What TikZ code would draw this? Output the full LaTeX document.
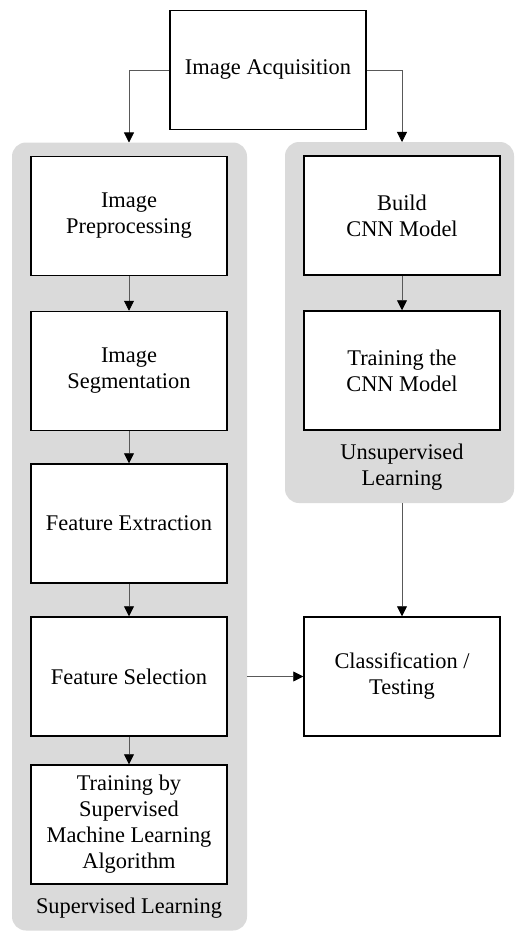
\documentclass[tikz,border=0pt]{standalone}
\usepackage{fontspec}
\setmainfont{LiberationSerif}[Extension=.ttf, UprightFont=*-Regular, BoldFont=*-Bold]
\usetikzlibrary{arrows.meta}
\definecolor{panelgray}{HTML}{DADADA}

\begin{document}
\begin{tikzpicture}[x=1pt,y=-1pt,
  box/.style={rectangle, draw=black, line width=1.5pt, fill=white, minimum width=196pt, minimum height=119pt, inner sep=0pt, align=center, font=\fontsize{22.4}{26}\selectfont},
  panel/.style={rectangle, fill=panelgray, rounded corners=14pt, inner sep=0pt, outer sep=0pt},
  lbl/.style={align=center, font=\fontsize{22.4}{26}\selectfont},
  flow/.style={-{Triangle[length=10pt,width=10pt,black]}, draw=black!65, line width=0.8pt}]
\useasboundingbox (0,0) rectangle (515,931);

% grey group panels
\node[panel, minimum width=235pt, minimum height=788pt](suppanel) at (129.5,536.5) {};
\node[panel, minimum width=229pt, minimum height=361pt](unsuppanel) at (399.5,322.5) {};

\node[box](acq) at (268,70) {Image Acquisition};

% supervised branch
\node[box](prep) at (129,216) {Image\\Preprocessing};
\node[box](seg) at (129,371) {Image\\Segmentation};
\node[box](fext) at (129,523.5) {Feature Extraction};
\node[box](fsel) at (129,676.5) {Feature Selection};
\node[box](train) at (129,824.5) {Training by\\Supervised\\Machine Learning\\Algorithm};
\node[lbl](suplabel) at (129,908) {Supervised Learning};

% unsupervised branch
\node[box](build) at (402,215.5) {Build\\CNN Model};
\node[box](cnntrain) at (402,370.5) {Training the\\CNN Model};
\node[lbl](unsuplabel) at (402,467) {Unsupervised\\Learning};

\node[box](clf) at (402,676.5) {Classification /\\Testing};

\draw[flow] (acq.west) -| (prep.north |- suppanel.north);
\draw[flow] (acq.east) -| (build.north |- unsuppanel.north);
\draw[flow] (prep) -- (seg);
\draw[flow] (seg) -- (fext);
\draw[flow] (fext) -- (fsel);
\draw[flow] (fsel) -- (train);
\draw[flow] (build) -- (cnntrain);
\draw[flow] (unsuppanel.south -| clf.north) -- (clf.north);
\draw[flow] (suppanel.east |- fsel.east) -- (clf.west);
\end{tikzpicture}
\end{document}
